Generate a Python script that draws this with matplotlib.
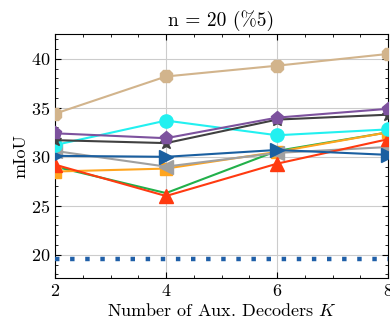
import numpy as np
import matplotlib
matplotlib.use("Agg")
import matplotlib.pyplot as plt
from matplotlib.ticker import MultipleLocator

plt.rcParams['font.family'] = 'serif'
plt.rcParams['font.serif'] = ['cmr10']
plt.rcParams['mathtext.fontset'] = 'cm'
plt.rcParams['axes.formatter.use_mathtext'] = True
plt.rcParams['font.size'] = 11

# valores
K = [2, 4, 6, 8]
tan_vals = [34.4, 38.2, 39.3, 40.5]
purple_vals = [32.4, 31.9, 34.0, 34.9]
dark_vals = [31.7, 31.4, 33.8, 34.3]
cyan_vals = [31.2, 33.7, 32.2, 32.8]
gray_vals = [30.6, 29.0, 30.4, 31.0]
blue_vals = [30.1, 30.0, 30.7, 30.2]
orange_vals = [28.5, 28.8, 30.5, 32.5]
green_vals = [29.0, 26.3, 30.6, 32.5]
red_vals = [29.2, 26.0, 29.3, 31.8]
baseline = [19.55, 19.55, 19.55, 19.55]

fig = plt.figure(figsize=(3.9, 3.21), dpi=100)
ax = fig.add_axes([0.141, 0.133, 0.854, 0.76])

ms = 9.5
lw = 1.5
ax.plot(K, baseline, color='#1f5fa8', lw=3.2, ls=(0, (1, 2.4)), zorder=3)
ax.plot(K, tan_vals, color='#d2b48c', marker='8', ms=ms, lw=lw, zorder=4)
ax.plot(K, green_vals, color='#22b04a', lw=lw, zorder=4)
ax.plot(K, orange_vals, color='#ffa51f', marker='s', ms=ms - 1, lw=lw, zorder=4)
ax.plot(K, gray_vals, color='#a0a0a0', marker='<', ms=ms, lw=lw, zorder=4)
ax.plot(K, red_vals, color='#ff3a10', marker='^', ms=ms, lw=lw, zorder=4)
ax.plot(K, blue_vals, color='#1a5fa0', marker='>', ms=ms, lw=lw, zorder=4)
ax.plot(K, cyan_vals, color='#22f0f0', marker='o', ms=ms, lw=lw, zorder=4)
ax.plot(K, dark_vals, color='#404040', marker='*', ms=ms, lw=lw, zorder=4)
ax.plot(K, purple_vals, color='#7d529e', marker='p', ms=ms, lw=lw, zorder=4)

ax.set_xlim(2, 8)
ax.set_ylim(17.6, 42.5)
ax.xaxis.set_major_locator(MultipleLocator(2))
ax.xaxis.set_minor_locator(MultipleLocator(0.5))
ax.yaxis.set_major_locator(MultipleLocator(5))
ax.yaxis.set_minor_locator(MultipleLocator(1))
ax.tick_params(which='both', direction='in', top=True, right=True, labelsize=13)
ax.tick_params(which='major', length=4)
ax.tick_params(which='minor', length=2)
ax.grid(True, which='major', color='#cccccc', lw=0.8)
ax.set_axisbelow(True)

ax.set_title("n = 20 (%5)", fontsize=14)
ax.set_xlabel("Number of Aux. Decoders $K$", fontsize=13, labelpad=2)
ax.set_ylabel("mIoU", fontsize=13, labelpad=2)

fig.savefig("out.png", dpi=100)
